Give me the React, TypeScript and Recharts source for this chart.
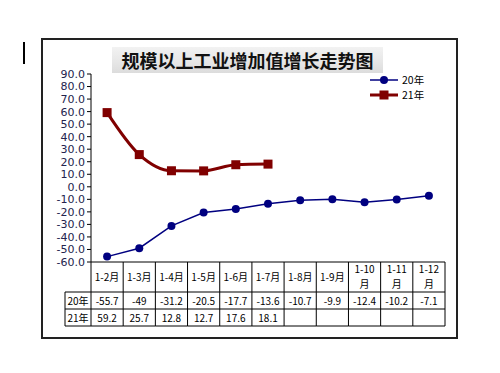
import React from "react";
import { LineChart, Line, XAxis, YAxis } from "recharts";

const categories = ["1-2月", "1-3月", "1-4月", "1-5月", "1-6月", "1-7月", "1-8月", "1-9月", "1-10月", "1-11月", "1-12月"];
const values20 = [-55.7, -49, -31.2, -20.5, -17.7, -13.6, -10.7, -9.9, -12.4, -10.2, -7.1];
const values21 = [59.2, 25.7, 12.8, 12.7, 17.6, 18.1];
const seriesNames = ["20年", "21年"];
const yTicks = [-60, -50, -40, -30, -20, -10, 0, 10, 20, 30, 40, 50, 60, 70, 80, 90];
const title = "规模以上工业增加值增长走势图";

const data = categories.map((c, i) => ({
  name: c,
  y20: values20[i] ?? null,
  y21: values21[i] ?? null,
}));

const W = 500;
const H = 373;
const MARGIN = { top: 74, right: 55, bottom: 47, left: 42 };
const Y_AXIS_W = 49;
const X_AXIS_H = 64;
const PLOT_LEFT = MARGIN.left + Y_AXIS_W;
const PLOT_W = W - PLOT_LEFT - MARGIN.right;
const PLOT_BOTTOM = H - MARGIN.bottom - X_AXIS_H;
const COL_W = PLOT_W / categories.length;
const ROW1 = PLOT_BOTTOM + 30;
const ROW2 = ROW1 + 17;
const ROW3 = ROW2 + 17;
const LABEL_W = 26;

const FONT = "'Noto Sans CJK SC', 'DejaVu Sans', sans-serif";
const BLUE = "#000080";
const RED = "#800000";

const fmt = (v: number | null | undefined) => (v === null || v === undefined ? "" : String(v));

const TableTick = (props: any) => {
  const { x, payload } = props;
  const i = payload.index;
  const left = x - COL_W / 2;
  const right = x + COL_W / 2;
  const label: string = payload.value;
  const twoLine = label.length > 4;
  const textProps = { fontSize: 10, fontFamily: FONT, fill: "#000", textAnchor: "middle" as const };
  return (
    <g>
      {i === 0 && (
        <g>
          <line x1={left} x2={left} y1={PLOT_BOTTOM} y2={ROW3} stroke="#000" />
          <line x1={left - LABEL_W} x2={left} y1={ROW1} y2={ROW1} stroke="#000" />
          <line x1={left - LABEL_W} x2={left} y1={ROW2} y2={ROW2} stroke="#000" />
          <line x1={left - LABEL_W} x2={left} y1={ROW3} y2={ROW3} stroke="#000" />
          <line x1={left - LABEL_W} x2={left - LABEL_W} y1={ROW1} y2={ROW3} stroke="#000" />
          <text {...textProps} x={left - LABEL_W / 2} y={ROW1 + 12.5}>{seriesNames[0]}</text>
          <text {...textProps} x={left - LABEL_W / 2} y={ROW2 + 12.5}>{seriesNames[1]}</text>
        </g>
      )}
      <line x1={right} x2={right} y1={PLOT_BOTTOM} y2={ROW3} stroke="#000" />
      <line x1={left} x2={right} y1={ROW1} y2={ROW1} stroke="#000" />
      <line x1={left} x2={right} y1={ROW2} y2={ROW2} stroke="#000" />
      <line x1={left} x2={right} y1={ROW3} y2={ROW3} stroke="#000" />
      {twoLine ? (
        <g>
          <text {...textProps} x={x} y={PLOT_BOTTOM + 11}>{label.replace("月", "")}</text>
          <text {...textProps} x={x} y={PLOT_BOTTOM + 26}>月</text>
        </g>
      ) : (
        <text {...textProps} x={x} y={PLOT_BOTTOM + 19}>{label}</text>
      )}
      <text {...textProps} x={x} y={ROW1 + 12.5}>{fmt(values20[i])}</text>
      <text {...textProps} x={x} y={ROW2 + 12.5}>{fmt(values21[i])}</text>
    </g>
  );
};

const SquareDot = (props: any) => {
  const { cx, cy } = props;
  if (cx == null || cy == null) return null;
  return <rect x={cx - 4.5} y={cy - 4.5} width={9} height={9} fill={RED} />;
};

const LegendBox = () => (
  <div style={{ position: "absolute", left: 368, top: 72, fontFamily: FONT, fontSize: 10.5, lineHeight: "15px", color: "#000" }}>
    {seriesNames.map((name, i) => (
      <div key={name} style={{ display: "flex", alignItems: "center", height: 15 }}>
        <svg width={32} height={12}>
          <line x1={2} x2={30} y1={6} y2={6} stroke={i === 0 ? BLUE : RED} strokeWidth={i === 0 ? 1.5 : 3} />
          {i === 0 ? (
            <circle cx={16} cy={6} r={4} fill={BLUE} />
          ) : (
            <rect x={11.5} y={1.5} width={9} height={9} fill={RED} />
          )}
        </svg>
        <span style={{ marginLeft: 2 }}>{name}</span>
      </div>
    ))}
  </div>
);

export default function App() {
  return (
    <div style={{ position: "absolute", left: 0, top: 0, width: W, height: H, background: "#fff" }}>
      <div style={{ position: "absolute", left: 23, top: 42, width: 2, height: 22, background: "#000" }} />
      <div
        style={{
          position: "absolute",
          left: 41,
          top: 38,
          width: 413,
          height: 297,
          border: "2px solid #222",
        }}
      />
      <div
        style={{
          position: "absolute",
          left: 112,
          top: 47,
          width: 271,
          height: 26,
          background: "linear-gradient(to bottom, #f2f2f2, #e6e6e6 60%, #dcdcdc)",
          fontFamily: FONT,
          fontSize: 18,
          fontWeight: 700,
          color: "#111",
          textAlign: "center",
          lineHeight: "26px",
        }}
      >
        {title}
      </div>
      <LineChart width={W} height={H} data={data} margin={MARGIN} style={{ position: "absolute", left: 0, top: 0 }}>
        <XAxis
          dataKey="name"
          interval={0}
          height={X_AXIS_H}
          padding={{ left: COL_W / 2, right: COL_W / 2 }}
          axisLine={{ stroke: "#000" }}
          tickLine={false}
          tick={<TableTick />}
        />
        <YAxis
          width={Y_AXIS_W}
          domain={[-60, 90]}
          ticks={yTicks}
          interval={0}
          tickFormatter={(v: number) => v.toFixed(1)}
          axisLine={{ stroke: "#000" }}
          tickLine={{ stroke: "#000" }}
          tickSize={4}
          tick={{ fontSize: 11, fill: "#23234d", fontFamily: "'DejaVu Sans', sans-serif" }}
        />
        <Line
          name={seriesNames[0]}
          dataKey="y20"
          type="linear"
          stroke={BLUE}
          strokeWidth={1.5}
          dot={{ r: 4, fill: BLUE, stroke: BLUE, strokeWidth: 0 }}
          isAnimationActive={false}
        />
        <Line
          name={seriesNames[1]}
          dataKey="y21"
          type="monotone"
          stroke={RED}
          strokeWidth={3}
          dot={<SquareDot />}
          connectNulls={false}
          isAnimationActive={false}
        />
      </LineChart>
      <LegendBox />
    </div>
  );
}
